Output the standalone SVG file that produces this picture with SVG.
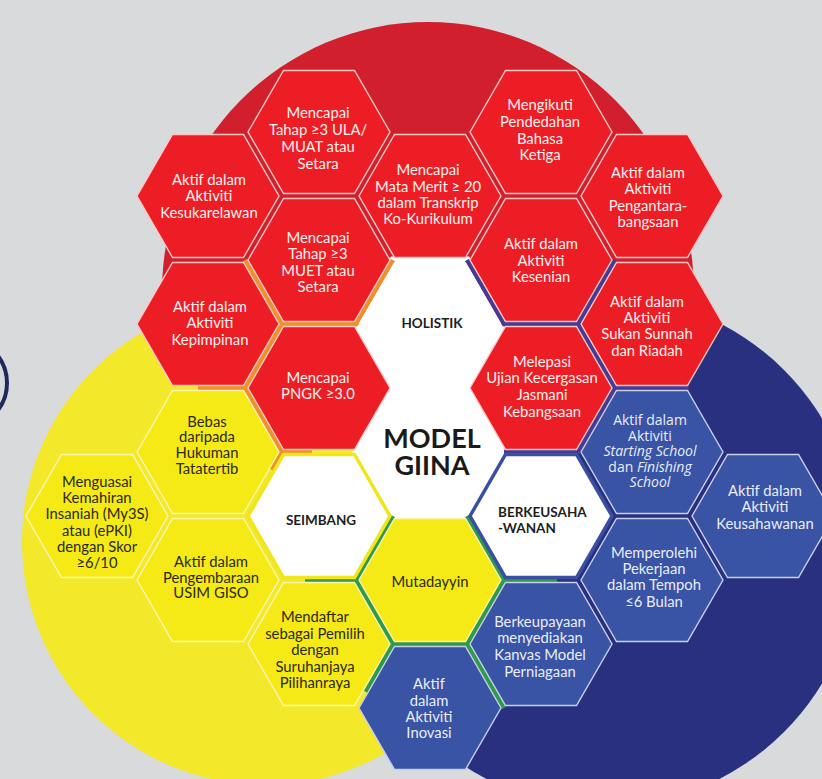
<svg xmlns="http://www.w3.org/2000/svg" xmlns:xlink="http://www.w3.org/1999/xlink" width="822" height="779" viewBox="0 0 822 779">
<defs>
<style>
.bg{fill:#d9dadc}
.r{fill:#ec1d25;stroke:#f9c8c4;stroke-width:1.4}
.y{fill:#f6ea16;stroke:#fbf5b3;stroke-width:1.4}
.b{fill:#3953a5;stroke:#c8cfea;stroke-width:1.4}
.w{fill:#ffffff;stroke:#ffffff;stroke-width:1}
.ws{fill:#ffffff;stroke:#f1e51b;stroke-width:3.5}
.wb{fill:#ffffff;stroke:#3a4ea2;stroke-width:3.5}
.lo{fill:none;stroke:#ee8f2a;stroke-width:5;stroke-linejoin:round}
.lp{fill:none;stroke:#453a94;stroke-width:5;stroke-linejoin:round}
.lg{fill:none;stroke:#2f9a4a;stroke-width:5;stroke-linejoin:round}
text{font-family:Lato,"Open Sans","Liberation Sans",sans-serif;font-size:14.8px;text-anchor:middle}
.tr{fill:#fff1ef}
.ty{fill:#2b2914}
.tb{fill:#e9edf8}
.tg{font-family:"Open Sans","Liberation Sans",sans-serif;font-size:14px}
.tt{fill:#1e1e1e;font-weight:700;font-size:13.5px}
.tm{fill:#1a1a1a;font-weight:700;font-size:27px}
</style>
<polygon id="hx" points="-71,0 -35.5,-61.5 35.5,-61.5 71,0 35.5,61.5 -35.5,61.5"/>
<polygon id="ux" points="-78,0 -39,-67.5 39,-67.5 78,0 39,67.5 -39,67.5"/>
</defs>
<rect class="bg" x="0" y="0" width="822" height="779"/>
<g id="background">
<ellipse cx="428" cy="292" rx="266" ry="270" fill="#d21f2e"/>
<circle cx="265" cy="542" r="243" fill="#f3e82a"/>
<circle cx="603" cy="551" r="256" fill="#2a3080"/>
<circle cx="-38" cy="383" r="45" fill="none" stroke="#1f2a5c" stroke-width="4"/>
<use href="#ux" x="430" y="452" fill="#ffffff"/>
<use href="#ux" x="430" y="324" fill="#ffffff"/>
</g>
<g id="connectors">
<path class="lo" d="M245,260 L282,324 L356,324 L393,260"/>
<path class="lo" d="M282,324 L245,388 L282,452 L312,452 M198,388 L245,388 M282,452 L272,470"/>
<path class="lp" d="M467,260 L504,324 L578,324 L615,260"/>
<path class="lp" d="M578,324 L615,388 L689,388 M615,388 L578,452 L504,452"/>
<path class="lg" d="M305,580 L356,580 L393,516 M356,580 L393,644 L366,692 M393,644 L467,644 L504,580 L467,516 M467,644 L504,708 M504,580 L557,580"/>
</g>
<g id="n-menguasai"><use href="#hx" class="y" x="97" y="516"/><text class="ty"><tspan x="97" y="487">Menguasai</tspan><tspan x="97" y="503">Kemahiran</tspan><tspan x="97" y="519">Insaniah (My3S)</tspan><tspan x="97" y="536">atau (ePKI)</tspan><tspan x="97" y="552">dengan Skor</tspan><tspan x="97" y="568">≥6/10</tspan></text></g>
<g id="n-kesukarelawan"><use href="#hx" class="r" x="208" y="196"/><text class="tr"><tspan x="209" y="185">Aktif dalam</tspan><tspan x="209" y="201">Aktiviti</tspan><tspan x="209" y="218">Kesukarelawan</tspan></text></g>
<g id="n-kepimpinan"><use href="#hx" class="r" x="208" y="324"/><text class="tr"><tspan x="210" y="312">Aktif dalam</tspan><tspan x="210" y="328">Aktiviti</tspan><tspan x="210" y="345">Kepimpinan</tspan></text></g>
<g id="n-bebas"><use href="#hx" class="y" x="208" y="452"/><text class="ty"><tspan x="207" y="427">Bebas</tspan><tspan x="207" y="442">daripada</tspan><tspan x="207" y="458">Hukuman</tspan><tspan x="207" y="474">Tatatertib</tspan></text></g>
<g id="n-pengembaraan"><use href="#hx" class="y" x="208" y="580"/><text class="ty"><tspan x="211" y="567">Aktif dalam</tspan><tspan x="211" y="583">Pengembaraan</tspan><tspan x="211" y="598">USIM GISO</tspan></text></g>
<g id="n-ula"><use href="#hx" class="r" x="319" y="132"/><text class="tr"><tspan x="318" y="118">Mencapai</tspan><tspan x="318" y="135">Tahap ≥3 ULA/</tspan><tspan x="318" y="152">MUAT atau</tspan><tspan x="318" y="169">Setara</tspan></text></g>
<g id="n-muet"><use href="#hx" class="r" x="319" y="260"/><text class="tr"><tspan x="318" y="243">Mencapai</tspan><tspan x="318" y="259">Tahap ≥3</tspan><tspan x="318" y="276">MUET atau</tspan><tspan x="318" y="292">Setara</tspan></text></g>
<g id="n-pngk"><use href="#hx" class="r" x="319" y="388"/><text class="tr"><tspan x="318" y="383">Mencapai</tspan><tspan x="318" y="399">PNGK ≥3.0</tspan></text></g>
<g id="n-seimbang"><use href="#hx" class="ws" x="319" y="516"/><text class="tt" x="321" y="525">SEIMBANG</text></g>
<g id="n-mendaftar"><use href="#hx" class="y" x="319" y="644"/><text class="ty"><tspan x="315" y="622">Mendaftar</tspan><tspan x="315" y="639">sebagai Pemilih</tspan><tspan x="315" y="655">dengan</tspan><tspan x="315" y="672">Suruhanjaya</tspan><tspan x="315" y="688">Pilihanraya</tspan></text></g>
<g id="n-merit"><use href="#hx" class="r" x="430" y="196"/><text class="tr"><tspan x="428" y="175">Mencapai</tspan><tspan x="428" y="192">Mata Merit ≥ 20</tspan><tspan x="428" y="208">dalam Transkrip</tspan><tspan x="428" y="224">Ko-Kurikulum</tspan></text></g>
<g id="n-holistik"><use href="#hx" class="w" x="430" y="324"/><text class="tt" x="432" y="328">HOLISTIK</text></g>
<g id="n-model"><use href="#hx" class="w" x="430" y="452"/><text class="tm"><tspan x="432" y="448">MODEL</tspan><tspan x="432" y="475">GIINA</tspan></text></g>
<g id="n-mutadayyin"><use href="#hx" class="y" x="430" y="580"/><text class="ty" x="430" y="587">Mutadayyin</text></g>
<g id="n-inovasi"><use href="#hx" class="b" x="430" y="708"/><text class="tb"><tspan x="429" y="689">Aktif</tspan><tspan x="429" y="706">dalam</tspan><tspan x="429" y="722">Aktiviti</tspan><tspan x="429" y="738">Inovasi</tspan></text></g>
<g id="n-mengikuti"><use href="#hx" class="r" x="541" y="132"/><text class="tr"><tspan x="540" y="110">Mengikuti</tspan><tspan x="540" y="127">Pendedahan</tspan><tspan x="540" y="144">Bahasa</tspan><tspan x="540" y="160">Ketiga</tspan></text></g>
<g id="n-kesenian"><use href="#hx" class="r" x="541" y="260"/><text class="tr"><tspan x="541" y="249">Aktif dalam</tspan><tspan x="541" y="266">Aktiviti</tspan><tspan x="541" y="282">Kesenian</tspan></text></g>
<g id="n-melepasi"><use href="#hx" class="r" x="541" y="388"/><text class="tr"><tspan x="542" y="367">Melepasi</tspan><tspan x="542" y="383">Ujian Kecergasan</tspan><tspan x="542" y="400">Jasmani</tspan><tspan x="542" y="417">Kebangsaan</tspan></text></g>
<g id="n-berkeusahawanan"><use href="#hx" class="wb" x="541" y="516"/><text class="tt" style="text-anchor:start"><tspan x="498" y="517">BERKEUSAHA</tspan><tspan x="498" y="533">-WANAN</tspan></text></g>
<g id="n-berkeupayaan"><use href="#hx" class="b" x="541" y="644"/><text class="tb"><tspan x="540" y="627">Berkeupayaan</tspan><tspan x="540" y="643">menyediakan</tspan><tspan x="540" y="660">Kanvas Model</tspan><tspan x="540" y="677">Perniagaan</tspan></text></g>
<g id="n-pengantarabangsaan"><use href="#hx" class="r" x="652" y="196"/><text class="tr"><tspan x="648" y="178">Aktif dalam</tspan><tspan x="648" y="194">Aktiviti</tspan><tspan x="648" y="211">Pengantara-</tspan><tspan x="648" y="227">bangsaan</tspan></text></g>
<g id="n-sukan"><use href="#hx" class="r" x="652" y="324"/><text class="tr"><tspan x="647" y="307">Aktif dalam</tspan><tspan x="647" y="323">Aktiviti</tspan><tspan x="647" y="339">Sukan Sunnah</tspan><tspan x="647" y="356">dan Riadah</tspan></text></g>
<g id="n-starting"><use href="#hx" class="b" x="652" y="452"/><text class="tb tg"><tspan x="650" y="425">Aktif dalam</tspan><tspan x="650" y="441">Aktiviti</tspan><tspan x="650" y="456" font-style="italic">Starting School</tspan><tspan x="650" y="472">dan <tspan font-style="italic">Finishing</tspan></tspan><tspan x="650" y="487" font-style="italic">School</tspan></text></g>
<g id="n-memperolehi"><use href="#hx" class="b" x="652" y="580"/><text class="tb"><tspan x="654" y="558">Memperolehi</tspan><tspan x="654" y="574">Pekerjaan</tspan><tspan x="654" y="590">dalam Tempoh</tspan><tspan x="654" y="607">≤6 Bulan</tspan></text></g>
<g id="n-keusahawanan"><use href="#hx" class="b" x="763" y="516"/><text class="tb"><tspan x="765" y="496">Aktif dalam</tspan><tspan x="765" y="512">Aktiviti</tspan><tspan x="765" y="529">Keusahawanan</tspan></text></g>
</svg>
